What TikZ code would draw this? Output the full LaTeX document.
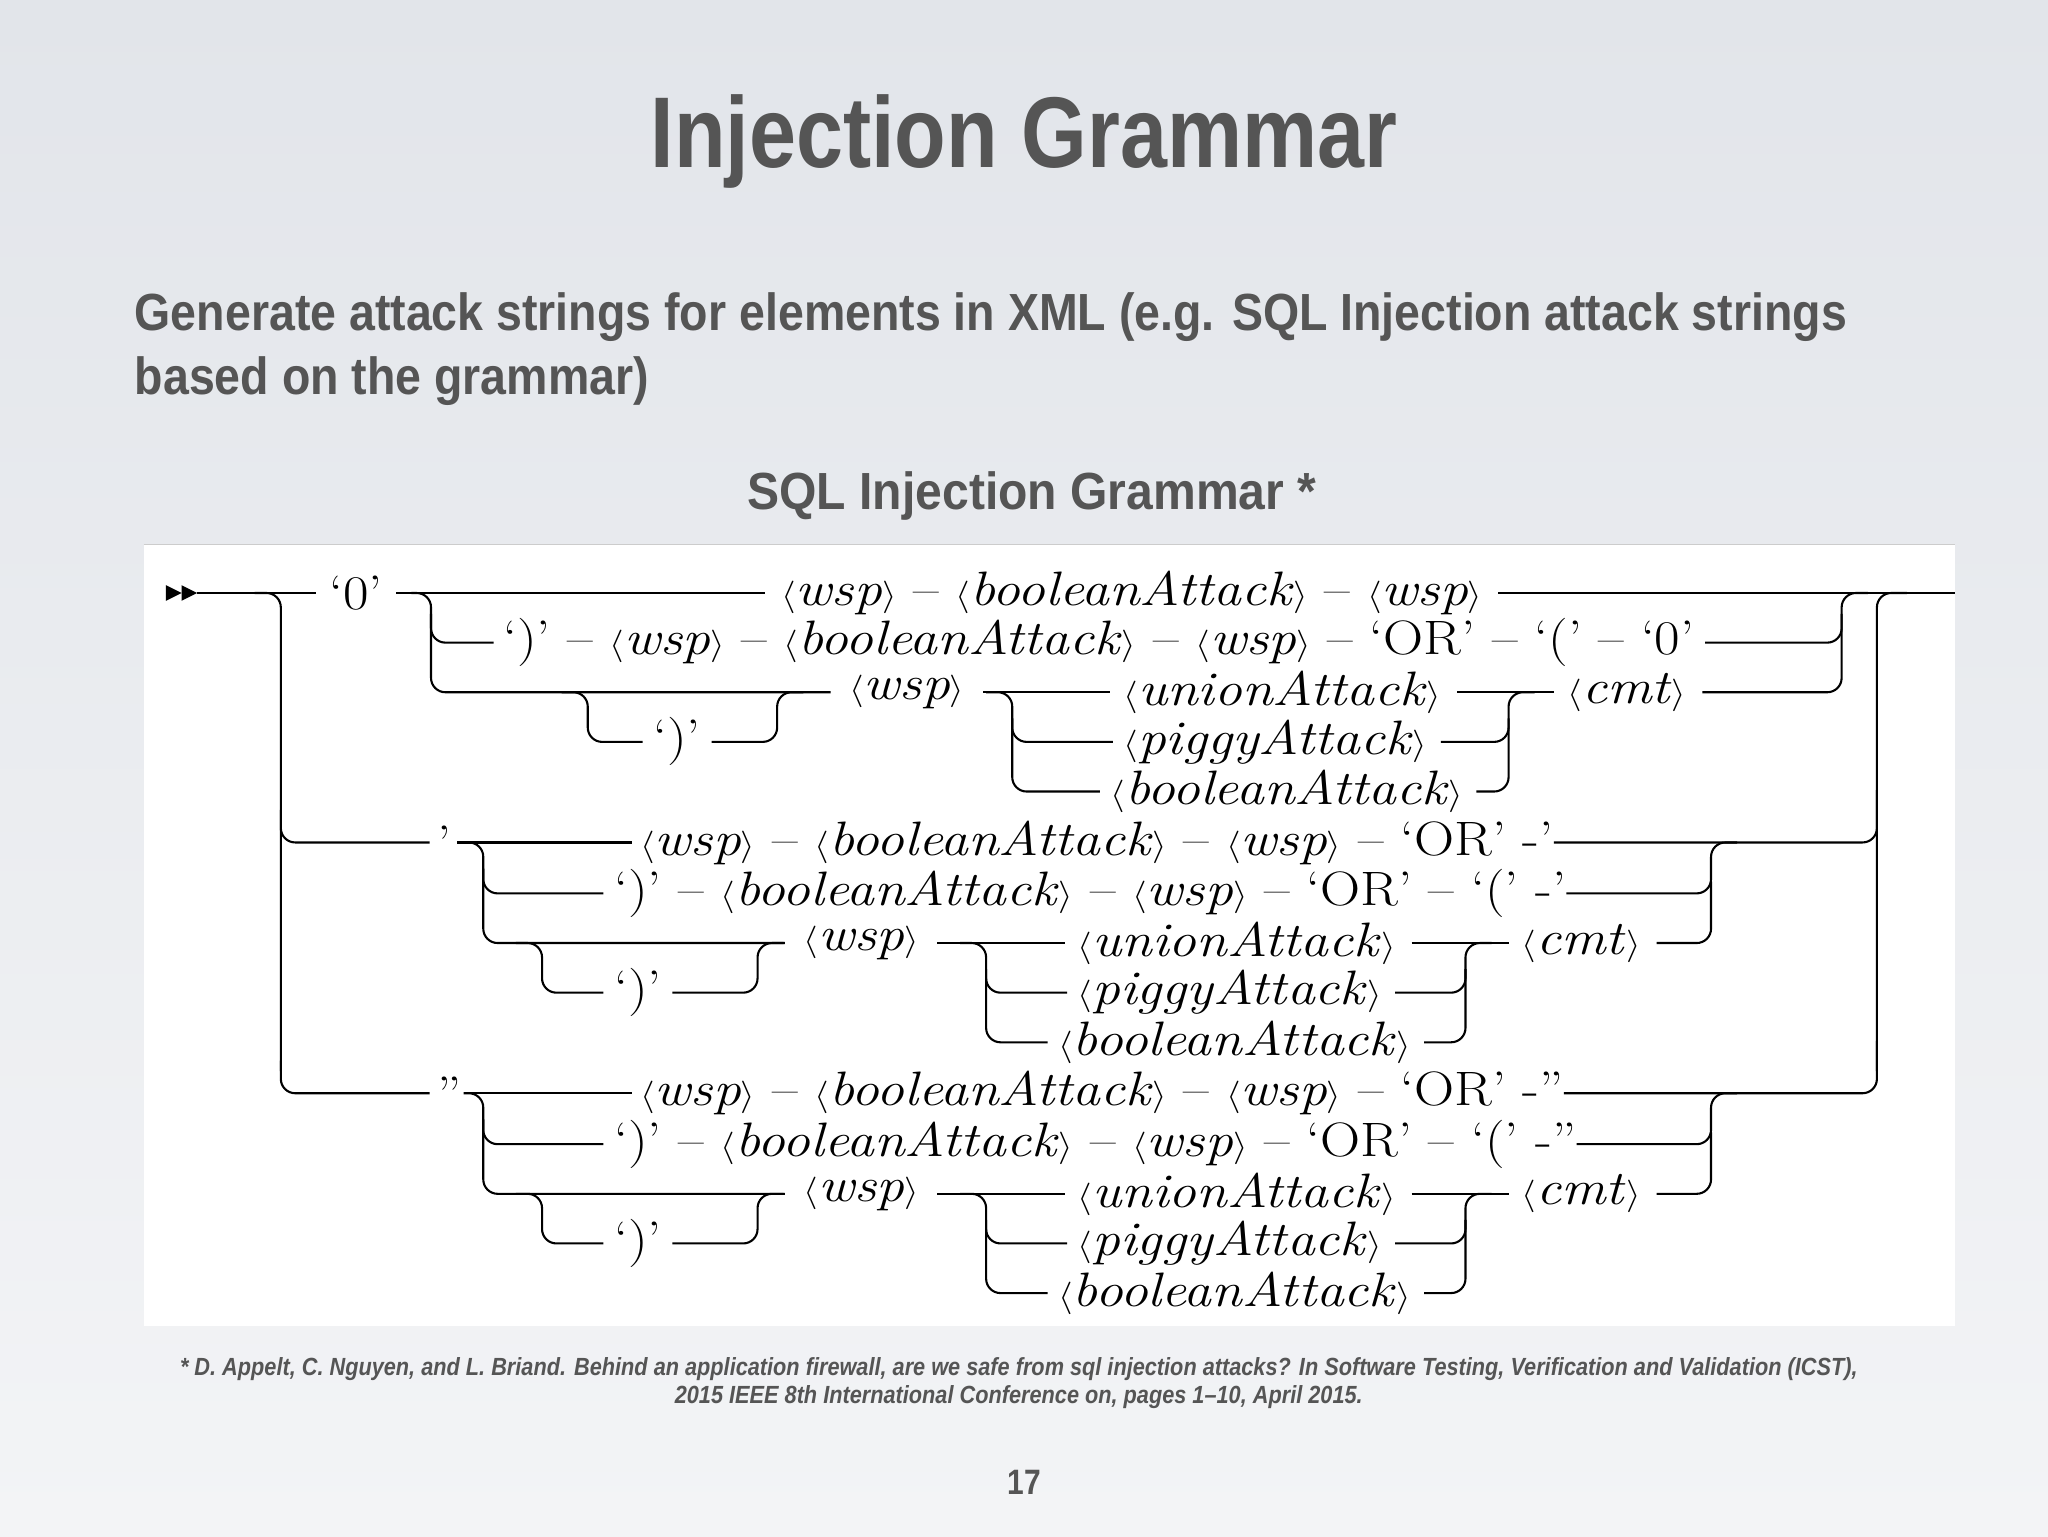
\documentclass[tikz,border=0pt]{standalone}
\usepackage{fontspec}
\newfontfamily\headfont{Liberation Sans}
\definecolor{bgtop}{HTML}{E2E5EA}
\definecolor{bgbot}{HTML}{F3F4F6}
\definecolor{headc}{HTML}{555555}
\newcommand\nt[1]{$\langle$\textit{#1}$\rangle$}
\newcommand\gt[1]{\scalebox{1.15}[1]{#1}}
\tikzset{
 rail/.style={line width=1.6pt, rounded corners=11pt},
 g/.style={font=\fontsize{37}{37}\selectfont, inner sep=0pt, anchor=west},
 hd/.style={text=headc, inner sep=0pt}
}
\begin{document}
\begin{tikzpicture}[x=1pt,y=-1pt]
\useasboundingbox (0,0) rectangle (1568,1176);
\shade[top color=bgtop, bottom color=bgbot] (0,0) rectangle (1568,1176);
% headings
\node[hd,anchor=center] (title) at (784,108) {\scalebox{0.84}[1]{\headfont\bfseries\fontsize{77}{77}\selectfont Injection Grammar}};
\node[hd,anchor=west] (sub1) at (103,243) {\scalebox{0.89}[1]{\headfont\bfseries\fontsize{40}{40}\selectfont Generate attack strings for elements in XML (e.g. SQL Injection attack strings}};
\node[hd,anchor=west] (sub2) at (103,292) {\scalebox{0.89}[1]{\headfont\bfseries\fontsize{40}{40}\selectfont based on the grammar)}};
\node[hd,anchor=center] (sqlh) at (790,380) {\scalebox{0.92}[1]{\headfont\bfseries\fontsize{40}{40}\selectfont SQL Injection Grammar *}};
% white panel
\fill[white] (110,417) rectangle (1497,1015);
\draw[gray!40, line width=0.8pt] (110,417) -- (1497,417);
% ---------- group 1 ----------
\node[g] (q0) at (252,454) {\gt{‘0’}};
\node[g] (a1) at (598,454) {\gt{\nt{wsp} -- \nt{booleanAttack} -- \nt{wsp}}};
\node[g] (a2) at (385,492) {\gt{‘)’ -- \nt{wsp} -- \nt{booleanAttack} -- \nt{wsp} -- ‘OR’ -- ‘(’ -- ‘0’}};
\node[g] (p1) at (500,568) {\gt{‘)’}};
\node[g] (w1) at (650,530) {\gt{\nt{wsp}}};
\node[g] (u1) at (860,530) {\gt{\nt{unionAttack}}};
\node[g] (pg1) at (860,568) {\gt{\nt{piggyAttack}}};
\node[g] (b1) at (850,606) {\gt{\nt{booleanAttack}}};
\node[g] (c1) at (1200,530) {\gt{\nt{cmt}}};
% entry arrow
\fill (127,448) -- (139,454) -- (127,460) -- cycle;
\fill (139,448) -- (151,454) -- (139,460) -- cycle;
\coordinate (entry) at (151,454);
\draw[rail] (entry) -- ([xshift=-10pt]q0.west);
\draw[rail] (195,454) -| (215,820);
\draw[rail] ([xshift=10pt]q0.east) -- ([xshift=-12pt]a1.west);
\draw[rail] ([xshift=12pt]a1.east) -- (1497,454);
\draw[rail] (315,454) -| (330,530) -- ([xshift=-14pt]w1.west);
\draw[rail] (330,470) |- ([xshift=-7pt]a2.west);
\draw[rail] ([xshift=8pt]a2.east) -| (1410,470);
\draw[rail] ([xshift=12pt]c1.east) -| (1410,454) -- (1430,454);
\draw[rail] (430,530) -| (450,568) -- ([xshift=-8pt]p1.west);
\draw[rail] ([xshift=8pt]p1.east) -| (595,530) -- (615,530);
\draw[rail] ([xshift=14pt]w1.east) -- ([xshift=-10pt]u1.west);
\draw[rail] (755,530) -| (775,606) -- ([xshift=-8pt]b1.west);
\draw[rail] (775,550) |- ([xshift=-8pt]pg1.west);
\draw[rail] ([xshift=12pt]u1.east) -- ([xshift=-10pt]c1.west);
\draw[rail] ([xshift=10pt]b1.east) -| (1155,530) -- (1175,530);
\draw[rail] ([xshift=10pt]pg1.east) -| (1155,550);
% ---------- groups 2 and 3 ----------
\foreach \yy/\q in {645/’,837/”}{
 \node[g] (q\yy) at (335,\yy) {\gt{\q}};
 \node[g] (r1\yy) at (490,\yy) {\gt{\nt{wsp} -- \nt{booleanAttack} -- \nt{wsp} -- ‘OR’ -\q}};
 \node[g] (r2\yy) at (470,\yy+39) {\gt{‘)’ -- \nt{booleanAttack} -- \nt{wsp} -- ‘OR’ -- ‘(’ -\q}};
 \node[g] (w\yy) at (615,\yy+77) {\gt{\nt{wsp}}};
 \node[g] (p\yy) at (470,\yy+115) {\gt{‘)’}};
 \node[g] (u\yy) at (825,\yy+77) {\gt{\nt{unionAttack}}};
 \node[g] (pg\yy) at (825,\yy+115) {\gt{\nt{piggyAttack}}};
 \node[g] (b\yy) at (810,\yy+153) {\gt{\nt{booleanAttack}}};
 \node[g] (c\yy) at (1165,\yy+77) {\gt{\nt{cmt}}};
 \draw[rail] (215,\yy-25) |- ([xshift=-6pt]q\yy.west);
 \draw[rail] ([xshift=4pt]q\yy.east) -- ([xshift=-6pt]r1\yy.west);
 \draw[rail] (355,\yy) -| (370,\yy+77) -- ([xshift=-14pt]w\yy.west);
 \draw[rail] (370,\yy+20) |- ([xshift=-8pt]r2\yy.west);
 \draw[rail] (r1\yy.east) -| (1437,\yy-40);
 \draw[rail] (r2\yy.east) -| (1310,\yy) -- (1330,\yy);
 \draw[rail] ([xshift=12pt]c\yy.east) -| (1310,\yy+30);
 \draw[rail] (395,\yy+77) -| (415,\yy+115) -- ([xshift=-8pt]p\yy.west);
 \draw[rail] ([xshift=8pt]p\yy.east) -| (580,\yy+77) -- (600,\yy+77);
 \draw[rail] ([xshift=14pt]w\yy.east) -- ([xshift=-10pt]u\yy.west);
 \draw[rail] (735,\yy+77) -| (755,\yy+153) -- ([xshift=-8pt]b\yy.west);
 \draw[rail] (755,\yy+97) |- ([xshift=-8pt]pg\yy.west);
 \draw[rail] ([xshift=12pt]u\yy.east) -- ([xshift=-10pt]c\yy.west);
 \draw[rail] ([xshift=10pt]b\yy.east) -| (1122,\yy+77) -- (1142,\yy+77);
 \draw[rail] ([xshift=10pt]pg\yy.east) -| (1122,\yy+97);
}
\draw[rail] (1437,820) -- (1437,454) -- (1460,454);
% footnote
\node[hd,anchor=center] (fn1) at (780,1048) {\scalebox{0.875}[1]{\headfont\bfseries\itshape\fontsize{19}{19}\selectfont * D. Appelt, C. Nguyen, and L. Briand. Behind an application firewall, are we safe from sql injection attacks? In Software Testing, Verification and Validation (ICST),}};
\node[hd,anchor=center] (fn2) at (780,1070) {\scalebox{0.875}[1]{\headfont\bfseries\itshape\fontsize{19}{19}\selectfont 2015 IEEE 8th International Conference on, pages 1–10, April 2015.}};
\node[hd,anchor=center] (pg) at (784,1135) {\scalebox{0.85}[1]{\headfont\bfseries\fontsize{27}{27}\selectfont 17}};
\end{tikzpicture}
\end{document}
